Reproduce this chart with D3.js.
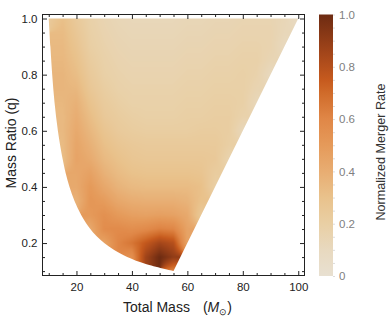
<!DOCTYPE html>
<html>
<head>
<meta charset="utf-8">
<script src="https://cdn.jsdelivr.net/npm/d3@7"></script>
<style>
  body { margin: 0; background: #fff; }
  text { font-family: "Liberation Sans", Arial, sans-serif; }
</style>
</head>
<body>
<div id="chart"></div>
<script>
// grid of the density plot: total mass columns and mass ratio rows
var massCols = [10, 15, 20, 25, 30, 35, 40, 45, 50, 55, 60, 65, 70, 75, 80, 85, 90, 95, 100];
var ratioRows = [0.10, 0.15, 0.20, 0.25, 0.30, 0.35, 0.40, 0.45, 0.50, 0.55, 0.60, 0.65, 0.70, 0.75, 0.80, 0.85, 0.90, 0.95, 1.00];

// each row: first mass column that lies inside the allowed region, then the rates
var rowStart = [55, 40, 30, 25, 25, 20, 20, 20, 15, 15, 15, 15, 15, 15, 15, 15, 15, 15, 10];
var rowRates = [
  [0.62],
  [0.55, 0.86, 1.00, 0.90],
  [0.45, 0.60, 0.66, 0.76, 0.85, 0.80, 0.45],
  [0.42, 0.57, 0.58, 0.56, 0.58, 0.62, 0.60, 0.45],
  [0.50, 0.55, 0.50, 0.47, 0.46, 0.47, 0.46, 0.42, 0.25],
  [0.38, 0.52, 0.49, 0.43, 0.40, 0.39, 0.39, 0.39, 0.37, 0.30],
  [0.42, 0.50, 0.43, 0.37, 0.34, 0.33, 0.33, 0.33, 0.33, 0.31, 0.20],
  [0.43, 0.46, 0.38, 0.33, 0.30, 0.29, 0.29, 0.29, 0.29, 0.28, 0.22],
  [0.32, 0.45, 0.41, 0.34, 0.30, 0.27, 0.26, 0.26, 0.26, 0.26, 0.26, 0.25, 0.16],
  [0.33, 0.44, 0.38, 0.31, 0.27, 0.25, 0.24, 0.24, 0.24, 0.24, 0.24, 0.24, 0.20],
  [0.34, 0.42, 0.35, 0.28, 0.24, 0.22, 0.21, 0.21, 0.21, 0.21, 0.22, 0.22, 0.21, 0.12],
  [0.34, 0.40, 0.32, 0.25, 0.22, 0.20, 0.19, 0.19, 0.19, 0.20, 0.20, 0.21, 0.21, 0.17],
  [0.35, 0.38, 0.29, 0.23, 0.20, 0.18, 0.18, 0.18, 0.18, 0.19, 0.19, 0.20, 0.20, 0.19, 0.12],
  [0.36, 0.35, 0.26, 0.21, 0.18, 0.17, 0.17, 0.17, 0.17, 0.18, 0.18, 0.19, 0.19, 0.19, 0.15],
  [0.36, 0.32, 0.24, 0.19, 0.17, 0.16, 0.16, 0.16, 0.16, 0.17, 0.17, 0.18, 0.18, 0.19, 0.17, 0.10],
  [0.35, 0.30, 0.22, 0.18, 0.16, 0.15, 0.15, 0.15, 0.15, 0.16, 0.16, 0.17, 0.17, 0.18, 0.18, 0.14],
  [0.34, 0.28, 0.20, 0.17, 0.15, 0.14, 0.14, 0.14, 0.14, 0.15, 0.15, 0.16, 0.16, 0.17, 0.17, 0.16, 0.10],
  [0.33, 0.26, 0.19, 0.16, 0.14, 0.13, 0.13, 0.13, 0.13, 0.14, 0.14, 0.15, 0.15, 0.16, 0.16, 0.16, 0.12],
  [0.24, 0.31, 0.24, 0.18, 0.15, 0.13, 0.12, 0.12, 0.12, 0.12, 0.13, 0.13, 0.14, 0.14, 0.15, 0.15, 0.15, 0.13, 0.08]
];

// lower-left edge of the filled region (q, M)
var edgeRatio = [1.0, 0.9, 0.8, 0.7, 0.6, 0.5, 0.45, 0.4, 0.35, 0.3, 0.25, 0.225, 0.2, 0.175, 0.15, 0.125, 0.1];
var edgeMass = [10, 10.6, 11.25, 12.1, 13.3, 15, 16.1, 17.5, 19.3, 21.7, 25, 27.2, 30, 33.6, 38.3, 45, 55];
// top-right corner of the region
var cornerMass = 100, cornerRatio = 1.0;

var xMajor = [20, 40, 60, 80, 100];
var yMajor = [0.2, 0.4, 0.6, 0.8, 1.0];
var barTicks = [0, 0.2, 0.4, 0.6, 0.8, 1.0];
var colorStops = [0, 0.1, 0.2, 0.3, 0.4, 0.5, 0.6, 0.7, 0.75, 0.85, 1.0];
var colorList = ['#e8e0d1', '#e8d9bf', '#e9cfa4', '#e9c28c', '#e8ad72', '#e59a5a', '#e08747', '#d06b2a', '#c65a1e', '#a4461a', '#6d2b12'];

var W = 390, H = 323;
var pLeft = 42.5, pTop = 14.5, pRight = 304.5, pBottom = 275.5;

var svg = d3.select('#chart').append('svg')
    .attr('width', W)
    .attr('height', H);

var x = d3.scaleLinear().domain([7.75, 102.25]).range([pLeft, pRight]);
var y = d3.scaleLinear().domain([0.0844, 1.0143]).range([pBottom, pTop]);
var color = d3.scaleLinear().domain(colorStops).range(colorList).clamp(true);

// build the full grid
var grid = ratioRows.map(function(q, j) {
    var row = massCols.map(function() { return null; });
    var s = massCols.indexOf(rowStart[j]);
    rowRates[j].forEach(function(v, k) { row[s + k] = v; });
    return row;
});

function sample(m, q) {
    var fi = (m - massCols[0]) / 5, fj = (q - ratioRows[0]) / 0.05;
    fi = Math.max(0, Math.min(massCols.length - 1.0001, fi));
    fj = Math.max(0, Math.min(ratioRows.length - 1.0001, fj));
    var i = Math.floor(fi), j = Math.floor(fj), tx = fi - i, ty = fj - j;
    var pts = [[i, j, (1 - tx) * (1 - ty)], [i + 1, j, tx * (1 - ty)], [i, j + 1, (1 - tx) * ty], [i + 1, j + 1, tx * ty]];
    var sum = 0, wsum = 0;
    pts.forEach(function(p) {
        var v = grid[p[1]][p[0]];
        if (v != null) { sum += v * p[2]; wsum += p[2]; }
    });
    return wsum > 0 ? sum / wsum : null;
}

// paint density to a canvas
var pw = Math.round(pRight - pLeft), ph = Math.round(pBottom - pTop);
var canvas = document.createElement('canvas');
canvas.width = pw; canvas.height = ph;
var ctx = canvas.getContext('2d');
var img = ctx.createImageData(pw, ph);
var lut = d3.range(256).map(function(k) { return d3.rgb(color(k / 255)); });
for (var py = 0; py < ph; py++) {
    var q = y.invert(pTop + py + 0.5);
    for (var px = 0; px < pw; px++) {
        var m = x.invert(pLeft + px + 0.5);
        var v = sample(m, q);
        if (v == null) continue;
        var c = lut[Math.round(Math.max(0, Math.min(1, v)) * 255)];
        var o = (py * pw + px) * 4;
        img.data[o] = c.r; img.data[o + 1] = c.g; img.data[o + 2] = c.b; img.data[o + 3] = 255;
    }
}
ctx.putImageData(img, 0, 0);

var edgeLine = d3.line()
    .x(function(d, i) { return x(edgeMass[i]); })
    .y(function(d) { return y(d); })
    .curve(d3.curveCatmullRom);
var outline = edgeLine(edgeRatio) + 'L' + x(cornerMass) + ',' + y(cornerRatio) + 'Z';

svg.append('clipPath').attr('id', 'region')
    .append('path').attr('d', outline);

svg.append('image')
    .attr('x', pLeft).attr('y', pTop)
    .attr('width', pw).attr('height', ph)
    .attr('preserveAspectRatio', 'none')
    .attr('href', canvas.toDataURL())
    .attr('clip-path', 'url(#region)');

// frame with inward ticks on all sides
var xMinor = d3.range(10, 101, 5).filter(function(d) { return xMajor.indexOf(d) < 0; });
var yMinor = d3.range(0.1, 1.001, 0.05).map(function(d) { return +d.toFixed(2); })
    .filter(function(d) { return yMajor.indexOf(d) < 0; });

function styleAxis(g) {
    g.select('.domain').remove();
    g.selectAll('line').attr('stroke', '#222');
    g.selectAll('text').attr('fill', '#222').style('font-size', '11.5px');
}

svg.append('g').attr('transform', 'translate(0,' + pBottom + ')')
    .call(d3.axisBottom(x).tickValues(xMajor).tickSize(-4.5).tickPadding(7).tickFormat(d3.format('d')))
    .call(styleAxis);
svg.append('g').attr('transform', 'translate(0,' + pBottom + ')')
    .call(d3.axisBottom(x).tickValues(xMinor).tickSize(-2.5).tickFormat(''))
    .call(styleAxis);
svg.append('g').attr('transform', 'translate(0,' + pTop + ')')
    .call(d3.axisTop(x).tickValues(xMajor).tickSize(-4.5).tickFormat(''))
    .call(styleAxis);
svg.append('g').attr('transform', 'translate(0,' + pTop + ')')
    .call(d3.axisTop(x).tickValues(xMinor).tickSize(-2.5).tickFormat(''))
    .call(styleAxis);
svg.append('g').attr('transform', 'translate(' + pLeft + ',0)')
    .call(d3.axisLeft(y).tickValues(yMajor).tickSize(-4.5).tickPadding(5).tickFormat(d3.format('.1f')))
    .call(styleAxis);
svg.append('g').attr('transform', 'translate(' + pLeft + ',0)')
    .call(d3.axisLeft(y).tickValues(yMinor).tickSize(-2.5).tickFormat(''))
    .call(styleAxis);
svg.append('g').attr('transform', 'translate(' + pRight + ',0)')
    .call(d3.axisRight(y).tickValues(yMajor).tickSize(-4.5).tickFormat(''))
    .call(styleAxis);
svg.append('g').attr('transform', 'translate(' + pRight + ',0)')
    .call(d3.axisRight(y).tickValues(yMinor).tickSize(-2.5).tickFormat(''))
    .call(styleAxis);

svg.append('rect')
    .attr('x', pLeft).attr('y', pTop)
    .attr('width', pRight - pLeft).attr('height', pBottom - pTop)
    .attr('fill', 'none').attr('stroke', '#222');

// axis titles
var xt = svg.append('text')
    .attr('x', 123).attr('y', 312)
    .attr('fill', '#222')
    .style('font-size', '14px')
    .text('Total Mass');
xt.append('tspan').attr('dx', 13).text('(');
xt.append('tspan').style('font-style', 'italic').text('M');
xt.append('tspan').attr('dy', 3).style('font-size', '9px').text('\u2299');
xt.append('tspan').attr('dy', -3).text(')');

svg.append('text')
    .attr('transform', 'translate(16,143) rotate(-90)')
    .attr('text-anchor', 'middle')
    .attr('fill', '#222')
    .style('font-size', '14px')
    .text('Mass Ratio (q)');

// colour bar
var barX = 319, barW = 14, barTop = 14.5, barBottom = 276;
var bar = d3.scaleLinear().domain([0, 1]).range([barBottom, barTop]);

var grad = svg.append('defs').append('linearGradient')
    .attr('id', 'bar-grad')
    .attr('x1', 0).attr('y1', 1).attr('x2', 0).attr('y2', 0);
grad.selectAll('stop').data(colorStops).enter().append('stop')
    .attr('offset', function(d) { return d; })
    .attr('stop-color', function(d) { return color(d); });

svg.append('rect')
    .attr('x', barX).attr('y', barTop)
    .attr('width', barW).attr('height', barBottom - barTop)
    .attr('fill', 'url(#bar-grad)');

svg.append('g').attr('transform', 'translate(' + (barX + barW) + ',0)')
    .call(d3.axisRight(bar).tickValues(d3.range(0, 1.01, 0.05)).tickSize(2).tickFormat(''))
    .call(function(g) {
        g.select('.domain').remove();
        g.selectAll('line').attr('stroke', '#ddd');
    });
svg.append('g').attr('transform', 'translate(' + (barX + barW) + ',0)')
    .call(d3.axisRight(bar).tickValues(barTicks).tickSize(0).tickPadding(6)
        .tickFormat(function(d) { return d === 0 ? '0' : d3.format('.1f')(d); }))
    .call(function(g) {
        g.select('.domain').remove();
        g.selectAll('text').attr('fill', '#808080').style('font-size', '11.5px');
    });

svg.append('text')
    .attr('transform', 'translate(385,152) rotate(-90)')
    .attr('text-anchor', 'middle')
    .attr('fill', '#333')
    .style('font-size', '12.6px')
    .text('Normalized Merger Rate');
</script>
</body>
</html>
